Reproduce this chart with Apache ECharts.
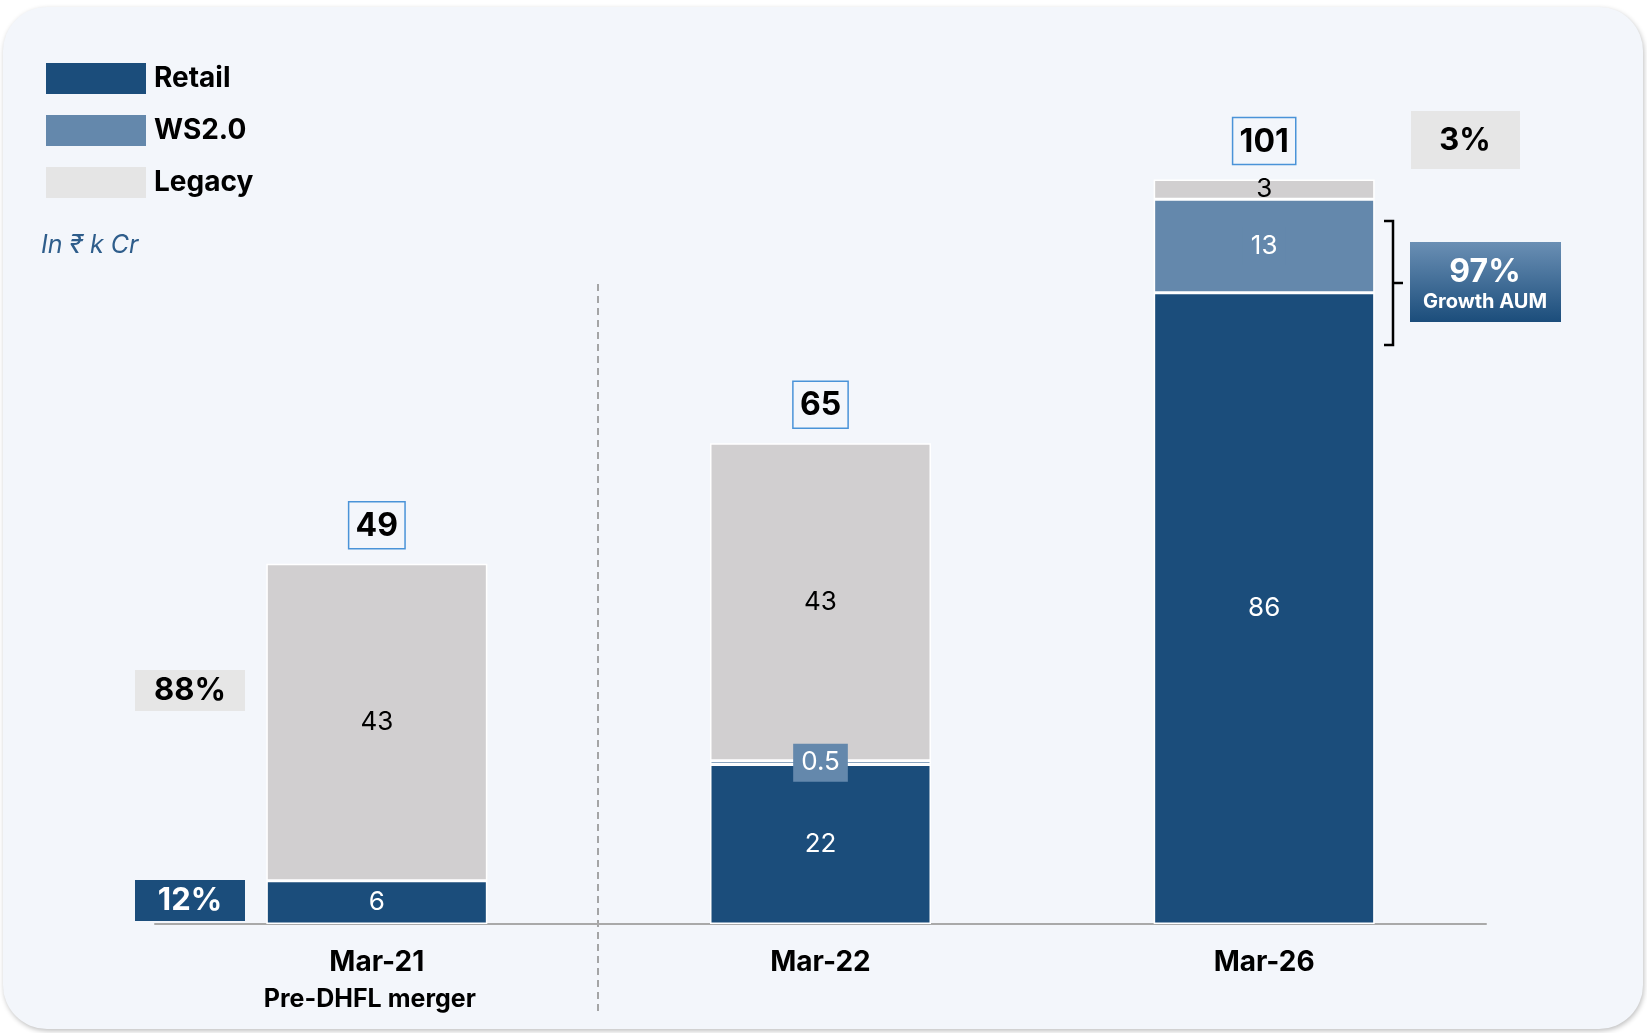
<!DOCTYPE html>
<html><head><meta charset="utf-8">
<script src="https://cdn.jsdelivr.net/npm/echarts/dist/echarts.min.js"></script>
<style>
html,body{margin:0;padding:0;background:#fff;width:1647px;height:1033px;overflow:hidden;}
#card{position:absolute;left:3px;top:7px;width:1640px;height:1022px;border-radius:44px;background:#f3f6fb;box-shadow:1px 2px 5px rgba(0,0,0,0.25);}
#chart{position:absolute;left:0;top:0;width:1647px;height:1033px;}
</style></head><body><div id="card"></div><div id="chart"></div>
<script>
// ---- data ----
const categories = ['Mar-21', 'Mar-22', 'Mar-26'];
const subLabels = ['Pre-DHFL merger', '', ''];
const retail = [5.9, 21.7, 85.9];
const ws20 = [0, 0.5, 12.7];
const legacy = [43.1, 43.2, 2.7];
const totals = [49, 65, 101];

const FONT = "Inter, 'Noto Sans', 'DejaVu Sans', sans-serif";
const C_RETAIL = '#1b4d7b', C_WS = '#6488ac', C_LEG = '#d1cfd0', C_LEG_LIGHT = '#e5e5e5';

const fmt = v => (v < 1 ? String(v) : String(Math.round(v)));
const sum = i => retail[i] + ws20[i] + legacy[i];
const pct = (a, i) => Math.round(a / sum(i) * 100) + '%';

const chart = echarts.init(document.getElementById('chart'), null, {renderer: 'canvas'});

const segLabel = (color) => ({
  show: true, position: 'inside', fontFamily: FONT, fontSize: 26, fontWeight: 400, color: color,
  formatter: p => fmt(p.value)
});

const option = {
  backgroundColor: 'transparent',
  animation: false,
  grid: {left: 155, right: 161, top: 115.5, bottom: 109, containLabel: false},
  legend: {
    orient: 'vertical', left: 46, top: 63, padding: 0, itemWidth: 100, itemHeight: 31, itemGap: 21,
    icon: 'rect', selectedMode: false,
    data: [{name: 'Retail'}, {name: 'WS2.0'}, {name: 'Legacy', itemStyle: {color: C_LEG_LIGHT, borderWidth: 0}}],
    itemStyle: {borderWidth: 0},
    textStyle: {fontFamily: FONT, fontSize: 28, fontWeight: 'bold', color: '#000', padding: [0, 0, 0, 3]}
  },
  xAxis: {
    type: 'category', data: categories,
    axisLine: {lineStyle: {color: '#a9a9a9', width: 2}},
    axisTick: {show: false},
    axisLabel: {
      margin: 20,
      formatter: (v, i) => subLabels[i] ? `{a|${v}}\n{b|${subLabels[i]}}` : `{a|${v}}`,
      rich: {
        a: {fontFamily: FONT, fontSize: 28, fontWeight: 'bold', color: '#000', lineHeight: 37},
        b: {fontFamily: FONT, fontSize: 25, fontWeight: 'bold', color: '#000', lineHeight: 37, padding: [0, 14, 0, 0]}
      }
    }
  },
  yAxis: {type: 'value', min: 0, max: 110, show: false, splitLine: {show: false}},
  series: [
    {
      name: 'Retail', type: 'bar', stack: 'a', barWidth: 221, data: retail,
      itemStyle: {color: C_RETAIL, borderColor: '#ffffff', borderWidth: 1.5},
      label: segLabel('#ffffff')
    },
    {
      name: 'WS2.0', type: 'bar', stack: 'a', barWidth: 221,
      data: ws20.map(v => v === 0 ? {value: v, label: {show: false}, itemStyle: {borderWidth: 0}} : v),
      itemStyle: {color: C_WS, borderColor: '#ffffff', borderWidth: 1.5},
      label: Object.assign(segLabel('#ffffff'), {backgroundColor: C_WS, padding: [7, 8, 5, 8]})
    },
    {
      name: 'Legacy', type: 'bar', stack: 'a', barWidth: 221, data: legacy,
      itemStyle: {color: C_LEG, borderColor: '#ffffff', borderWidth: 1.5},
      label: segLabel('#000000')
    },
    {
      name: 'Total', type: 'bar', stack: 'a', barWidth: 221, data: totals.map(() => 0),
      itemStyle: {color: 'transparent', borderWidth: 0},
      label: {
        show: true, position: 'top', distance: 15, formatter: p => String(totals[p.dataIndex]),
        fontFamily: FONT, fontSize: 32, fontWeight: 'bold', color: '#000', lineHeight: 33,
        borderColor: '#4a93d8', borderWidth: 1.5, padding: [8, 7, 6, 7]
      }
    }
  ],
  graphic: [
    {type: 'text', left: 41, top: 233, style: {text: 'In ₹ k Cr', fontFamily: FONT, fontSize: 25, fontStyle: 'italic', fill: '#2e5d8b'}},
    {type: 'line', shape: {x1: 598, y1: 284, x2: 598, y2: 1013}, style: {stroke: '#8a8a8a', lineWidth: 1.5, lineDash: [7, 5]}},
    // left share boxes
    {type: 'rect', shape: {x: 135, y: 670, width: 110, height: 41}, style: {fill: '#e6e6e6'}},
    {type: 'text', x: 190, y: 691, style: {text: pct(legacy[0], 0), fontFamily: FONT, fontSize: 31, fontWeight: 'bold', fill: '#000', align: 'center', verticalAlign: 'middle'}},
    {type: 'rect', shape: {x: 135, y: 880, width: 110, height: 41}, style: {fill: C_RETAIL}},
    {type: 'text', x: 190, y: 901, style: {text: pct(retail[0], 0), fontFamily: FONT, fontSize: 31, fontWeight: 'bold', fill: '#fff', align: 'center', verticalAlign: 'middle'}},
    // right share boxes
    {type: 'rect', shape: {x: 1411, y: 111, width: 109, height: 58}, style: {fill: '#e6e6e6'}},
    {type: 'text', x: 1465, y: 141, style: {text: pct(legacy[2], 2), fontFamily: FONT, fontSize: 31, fontWeight: 'bold', fill: '#000', align: 'center', verticalAlign: 'middle'}},
    {type: 'rect', shape: {x: 1410, y: 242, width: 151, height: 80}, style: {fill: new echarts.graphic.LinearGradient(0, 0, 0, 1, [{offset: 0, color: '#6a8fb4'}, {offset: 1, color: '#1b4d7b'}])}},
    {type: 'text', x: 1485, y: 272, style: {text: pct(retail[2] + ws20[2], 2), fontFamily: FONT, fontSize: 32, fontWeight: 'bold', fill: '#fff', align: 'center', verticalAlign: 'middle'}},
    {type: 'text', x: 1485, y: 302, style: {text: 'Growth AUM', fontFamily: FONT, fontSize: 20, fontWeight: 'bold', fill: '#fff', align: 'center', verticalAlign: 'middle'}},
    // bracket
    {type: 'polyline', shape: {points: [[1384, 221], [1393, 221], [1393, 345], [1384, 345]]}, style: {stroke: '#000', lineWidth: 2.5, fill: null}},
    {type: 'line', shape: {x1: 1393, y1: 283, x2: 1403, y2: 283}, style: {stroke: '#000', lineWidth: 2.5}}
  ]
};
chart.setOption(option);
</script>
</body></html>
